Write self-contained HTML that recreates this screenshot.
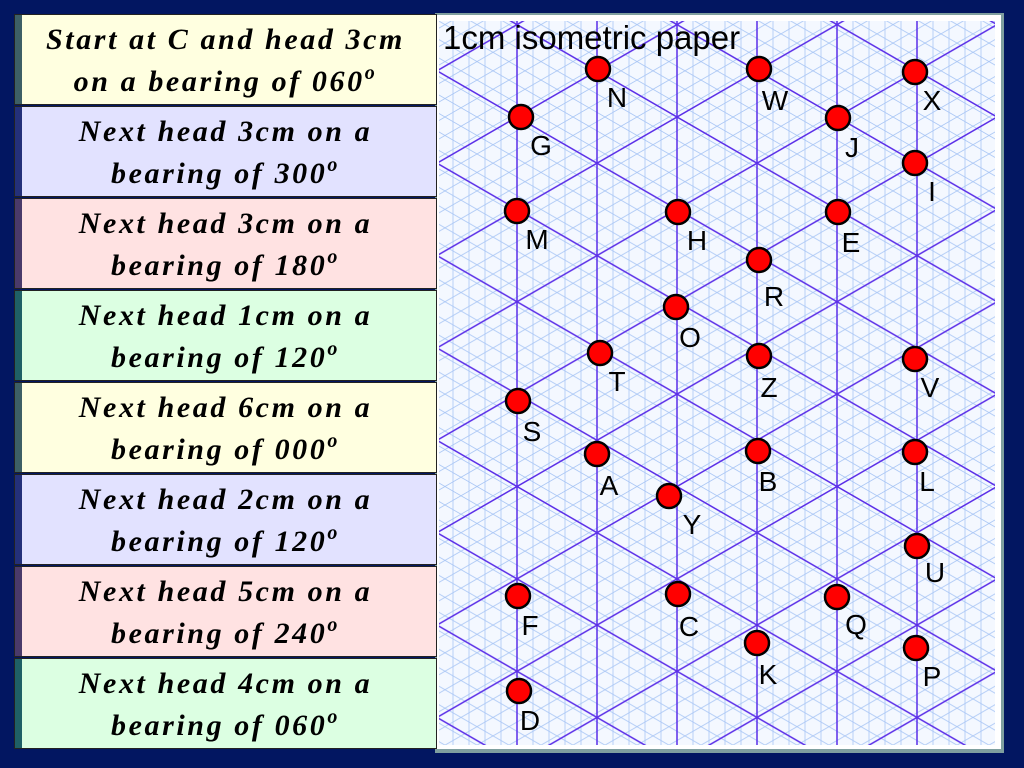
<!DOCTYPE html>
<html><head><meta charset="utf-8"><style>
body{margin:0;width:1024px;height:768px;background:#021661;overflow:hidden;position:relative;font-family:"Liberation Sans",sans-serif}
.box{position:absolute;left:14px;width:423px;height:91px;border:1px solid #222;box-sizing:border-box;text-align:center;font-family:"Liberation Serif",serif;font-weight:bold;font-style:italic;font-size:30px;letter-spacing:2.6px;line-height:42px;padding-top:4px;color:#000;white-space:nowrap}
.box:before{content:"";position:absolute;left:0;top:0;bottom:0;width:7px}
sup{font-size:20px;vertical-align:12px;line-height:0}
.y{background:#ffffe0}.y:before{background:#3d5f66}
.l{background:#e2e2ff}.l:before{background:#24307a}
.p{background:#ffe2e2}.p:before{background:#4a3a6a}
.g{background:#dcffe2}.g:before{background:#1f6066}
</style></head><body>
<div style="position:absolute;left:435px;top:13px;width:569px;height:740px;background:#7f9f9f"></div>
<div style="position:absolute;left:437px;top:15px;width:564px;height:734px;background:#fff"></div>
<svg style="position:absolute;left:0;top:0" width="1024" height="768">
<defs>
<pattern id="mi" patternUnits="userSpaceOnUse" x="509" y="117" width="32" height="18.475">
<g stroke="#a9c6f5" stroke-width="0.8" fill="none">
<line x1="8" y1="0" x2="8" y2="18.475"/><line x1="24" y1="0" x2="24" y2="18.475"/>
<line x1="-8" y1="-4.62" x2="40" y2="23.09"/><line x1="-8" y1="-23.09" x2="40" y2="4.62"/>
<line x1="-8" y1="23.09" x2="40" y2="-4.62"/><line x1="-8" y1="41.57" x2="40" y2="13.86"/>
</g></pattern>
<pattern id="ma" patternUnits="userSpaceOnUse" x="517" y="117" width="160" height="92.376">
<g stroke="#5a2ee8" stroke-width="1.5" fill="none">
<line x1="0" y1="0" x2="160" y2="92.376"/><line x1="0" y1="-92.376" x2="160" y2="0"/>
<line x1="0" y1="92.376" x2="160" y2="0"/><line x1="0" y1="184.75" x2="160" y2="92.376"/>
</g></pattern>
</defs>
<rect x="439" y="21" width="556" height="724" fill="#f4f8ff"/>
<rect x="439" y="21" width="556" height="724" fill="url(#mi)"/>
<rect x="439" y="21" width="556" height="724" fill="url(#ma)"/>
<g stroke="#5a2ee8" stroke-width="1.5">
<line x1="517" y1="21" x2="517" y2="745"/><line x1="597" y1="21" x2="597" y2="745"/>
<line x1="677" y1="21" x2="677" y2="745"/><line x1="757" y1="21" x2="757" y2="745"/>
<line x1="837" y1="21" x2="837" y2="745"/><line x1="917" y1="21" x2="917" y2="745"/>
</g>
<text x="443" y="49" font-size="33" font-family="Liberation Sans">1cm isometric paper</text>
<g fill="#f00" stroke="#000" stroke-width="2.5">
<circle cx="598" cy="69" r="12"/><circle cx="759" cy="69" r="12"/><circle cx="915" cy="72" r="12"/>
<circle cx="521" cy="117" r="12"/><circle cx="838" cy="118" r="12"/><circle cx="915" cy="163" r="12"/>
<circle cx="517" cy="211" r="12"/><circle cx="678" cy="212" r="12"/><circle cx="838" cy="212" r="12"/>
<circle cx="759" cy="260" r="12"/><circle cx="676" cy="307" r="12"/><circle cx="600" cy="353" r="12"/>
<circle cx="759" cy="356" r="12"/><circle cx="915" cy="359" r="12"/><circle cx="518" cy="401" r="12"/>
<circle cx="597" cy="454" r="12"/><circle cx="758" cy="451" r="12"/><circle cx="915" cy="452" r="12"/>
<circle cx="669" cy="496" r="12"/><circle cx="917" cy="546" r="12"/><circle cx="518" cy="596" r="12"/>
<circle cx="678" cy="594" r="12"/><circle cx="837" cy="597" r="12"/><circle cx="757" cy="643" r="12"/>
<circle cx="916" cy="648" r="12"/><circle cx="519" cy="691" r="12"/>
</g>
<g font-size="28" font-family="Liberation Sans" text-anchor="middle">
<text x="617" y="107">N</text><text x="775" y="110">W</text><text x="932" y="110">X</text>
<text x="541" y="155">G</text><text x="852" y="157">J</text><text x="932" y="201">I</text>
<text x="537" y="249">M</text><text x="697" y="250">H</text><text x="851" y="252">E</text>
<text x="774" y="306">R</text><text x="690" y="347">O</text><text x="617" y="391">T</text>
<text x="769" y="397">Z</text><text x="930" y="397">V</text><text x="532" y="441">S</text>
<text x="609" y="495">A</text><text x="768" y="491">B</text><text x="927" y="491">L</text>
<text x="692" y="534">Y</text><text x="935" y="582">U</text><text x="530" y="635">F</text>
<text x="689" y="636">C</text><text x="856" y="634">Q</text><text x="768" y="684">K</text>
<text x="932" y="686">P</text><text x="530" y="730">D</text>
</g>
</svg>
<div class="box y" style="top:14px">Start at C and head 3cm<br>on a bearing of 060<sup>o</sup></div>
<div class="box l" style="top:106px">Next head 3cm on a<br>bearing of 300<sup>o</sup></div>
<div class="box p" style="top:198px">Next head 3cm on a<br>bearing of 180<sup>o</sup></div>
<div class="box g" style="top:290px">Next head 1cm on a<br>bearing of 120<sup>o</sup></div>
<div class="box y" style="top:382px">Next head 6cm on a<br>bearing of 000<sup>o</sup></div>
<div class="box l" style="top:474px">Next head 2cm on a<br>bearing of 120<sup>o</sup></div>
<div class="box p" style="top:566px">Next head 5cm on a<br>bearing of 240<sup>o</sup></div>
<div class="box g" style="top:658px">Next head 4cm on a<br>bearing of 060<sup>o</sup></div>
</body></html>
